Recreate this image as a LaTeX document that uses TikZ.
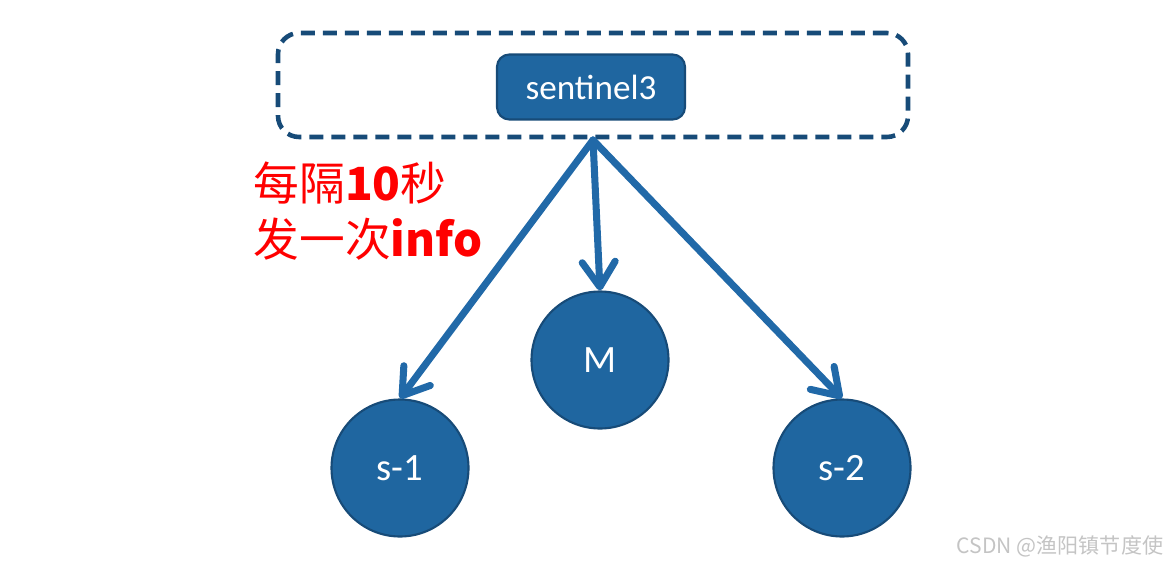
\documentclass[tikz,border=0pt]{standalone}
\usepackage{fontspec}
\setmainfont{Carlito}
\newfontfamily\cjk{Noto Sans CJK SC}
\usepackage{tikz}
\usetikzlibrary{positioning, arrows.meta, shapes.geometric, calc}
\usepackage{xcolor}
\definecolor{NodeBlue}{HTML}{1F66A0}
\definecolor{EdgeBlue}{HTML}{174B78}
\definecolor{ArrowBlue}{HTML}{2169A8}
\definecolor{InfoRed}{HTML}{FF0000}
\definecolor{MarkGray}{HTML}{C4C4C4}

\begin{document}
\begin{tikzpicture}
            \useasboundingbox (0, 0) rectangle (23.48, -11.32);
            \tikzset{
                redis/.style={circle, draw=EdgeBlue, line width=1.2pt, fill=NodeBlue,
                              minimum size=2.74cm, inner sep=0pt,
                              font=\fontsize{22}{22}\selectfont\color{white}},
                ping/.style={draw=ArrowBlue, line width=4pt, line cap=round,
                             -{Straight Barb[length=0.5cm, width=0.66cm, round]}}
            }
            % sentinel group
            \node[draw=EdgeBlue, line width=2.6pt, dash pattern=on 0.28cm off 0.16cm,
                  rounded corners=12pt, minimum width=12.6cm, minimum height=2.08cm]
                (group) at (11.86, -1.70) {};
            \node[draw=EdgeBlue, line width=1.2pt, fill=NodeBlue, rounded corners=7pt,
                  minimum width=3.76cm, minimum height=1.30cm,
                  font=\fontsize{20}{20}\selectfont\color{white}]
                (sentinel) at (11.82, -1.74) {sentinel3};
            % master and slaves
            \node[redis] (master) at (12.0, -7.2) {M};
            \node[redis] (slave1) at (8.0, -9.36) {s-1};
            \node[redis] (slave2) at (16.84, -9.36) {s-2};
            \coordinate (src) at (11.86, -2.80);
            \draw[ping] (src) -- (slave1.north);
            \draw[ping] (src) -- (master.north);
            \draw[ping] (src) -- (slave2.north);
            \node[align=left, anchor=west, text=InfoRed,
                  font=\cjk\fontsize{26}{32}\selectfont]
                (note) at (4.95, -4.22) {每隔{\bfseries 10}秒\\发一次{\bfseries info}};
            \node[font=\cjk\fontsize{12}{12}\selectfont\color{MarkGray}]
                (mark) at (21.2, -10.92) {CSDN @渔阳镇节度使};
        \end{tikzpicture}
\end{document}
